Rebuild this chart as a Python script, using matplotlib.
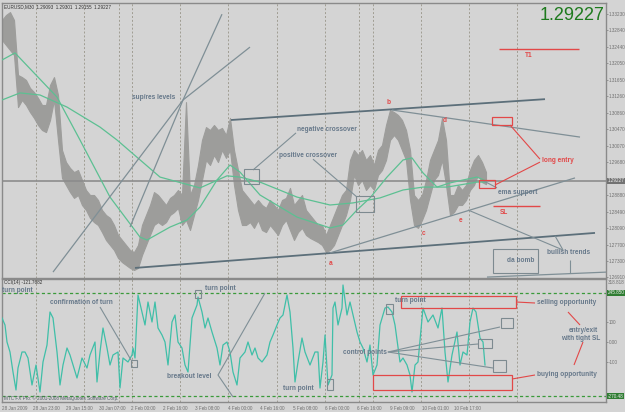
import matplotlib
matplotlib.use("Agg")
import matplotlib.pyplot as plt
import matplotlib.transforms as mtransforms
from matplotlib.patches import Rectangle
import numpy as np

# ------------------------------------------------------------------ data
# EURUSD M30 price band (high / low), one sample every 4 bars
price_high = [1.3309, 1.3321, 1.3328, 1.3309, 1.3177, 1.3172, 1.3165, 1.3146, 1.3136, 1.3122,
              1.3105, 1.3105, 1.3153, 1.3172, 1.3129, 1.2997, 1.2968, 1.2954, 1.2944, 1.2949,
              1.2925, 1.2901, 1.2889, 1.2889, 1.2877, 1.2853, 1.2841, 1.2834, 1.2817, 1.2793,
              1.2781, 1.2769, 1.2757, 1.2752, 1.2769, 1.2817, 1.2841, 1.2865, 1.2896, 1.2889,
              1.2877, 1.2865, 1.2882, 1.2889, 1.2901, 1.2889, 1.3112, 1.2889, 1.2913, 1.2961,
              1.3021, 1.3052, 1.3045, 1.3057, 1.3045, 1.3050, 1.3033, 1.3074, 1.2997, 1.2949,
              1.2901, 1.2889, 1.2877, 1.2865, 1.2877, 1.2865, 1.2858, 1.2877, 1.2865, 1.2853,
              1.2877, 1.2882, 1.2906, 1.2865, 1.2877, 1.2889, 1.2853, 1.2841, 1.2829, 1.2817,
              1.2817, 1.2793, 1.2817, 1.2841, 1.2865, 1.2889, 1.2901, 1.2973, 1.2997, 1.2985,
              1.2997, 1.2973, 1.2985, 1.2961, 1.2997, 1.3009, 1.3057, 1.3093, 1.3088, 1.3081,
              1.3069, 1.3045, 1.2997, 1.2889, 1.2877, 1.2889, 1.2925, 1.2973, 1.2997, 1.3021,
              1.3074, 1.3021, 1.2889, 1.2889, 1.2913, 1.2901, 1.2913, 1.2949, 1.2973, 1.2985,
              1.2968, 1.2944]
price_low = [1.3261, 1.3249, 1.3237, 1.3225, 1.3100, 1.3117, 1.3105, 1.3088, 1.3074, 1.3057,
             1.3045, 1.3040, 1.3069, 1.3117, 1.3021, 1.2930, 1.2913, 1.2896, 1.2882, 1.2889,
             1.2865, 1.2853, 1.2834, 1.2824, 1.2817, 1.2800, 1.2781, 1.2769, 1.2757, 1.2738,
             1.2728, 1.2721, 1.2714, 1.2709, 1.2714, 1.2745, 1.2769, 1.2793, 1.2817, 1.2824,
             1.2817, 1.2824, 1.2841, 1.2848, 1.2858, 1.2817, 1.2829, 1.2805, 1.2841, 1.2877,
             1.2925, 1.2973, 1.2961, 1.2985, 1.2968, 1.2997, 1.2978, 1.2997, 1.2913, 1.2853,
             1.2817, 1.2817, 1.2824, 1.2810, 1.2829, 1.2805, 1.2800, 1.2817, 1.2805, 1.2793,
             1.2817, 1.2829, 1.2805, 1.2781, 1.2800, 1.2810, 1.2793, 1.2786, 1.2781, 1.2776,
             1.2769, 1.2752, 1.2757, 1.2769, 1.2793, 1.2817, 1.2841, 1.2877, 1.2937, 1.2913,
             1.2925, 1.2901, 1.2913, 1.2901, 1.2937, 1.2949, 1.2973, 1.3021, 1.3033, 1.3021,
             1.2997, 1.2973, 1.2877, 1.2817, 1.2810, 1.2829, 1.2853, 1.2889, 1.2925, 1.2937,
             1.2973, 1.2913, 1.2841, 1.2848, 1.2865, 1.2865, 1.2877, 1.2901, 1.2913, 1.2937,
             1.2920, 1.2915]
price_bars = np.arange(len(price_high)) * 4

ma_fast_bars = [0, 13, 55, 78, 108, 138, 145, 168, 185, 198, 215, 228, 238, 258, 295, 328,
                341, 355, 368, 385, 401, 410, 421, 435, 448, 461, 475, 484]
ma_fast = [1.3213, 1.3230, 1.3124, 1.3021, 1.2884, 1.2788, 1.2781, 1.2812, 1.2829, 1.2860,
           1.2925, 1.2961, 1.2944, 1.2889, 1.2836, 1.2810, 1.2817, 1.2853, 1.2882, 1.2932,
           1.2973, 1.2978, 1.2942, 1.2908, 1.2918, 1.2925, 1.2932, 1.2923]
ma_slow_bars = [0, 18, 38, 65, 98, 115, 158, 198, 225, 238, 258, 295, 328, 351, 378, 401,
                421, 445, 475, 484]
ma_slow = [1.3117, 1.3134, 1.3129, 1.3100, 1.3052, 1.3021, 1.2932, 1.2906, 1.2935, 1.2932,
           1.2920, 1.2884, 1.2865, 1.2870, 1.2882, 1.2901, 1.2908, 1.2908, 1.2920, 1.2920]

cci_bars = [0, 3, 5, 8, 11, 14, 16, 20, 23, 26, 30, 34, 38, 41, 45, 48, 51, 55, 58, 61,
            65, 68, 75, 80, 85, 88, 93, 95, 98, 101, 105, 108, 111, 116, 118, 121, 126, 130,
            131, 133, 136, 140, 143, 146, 150, 153, 156, 160, 163, 166, 170, 173, 176, 180,
            183, 186, 190, 195, 196, 200, 203, 206, 210, 215, 218, 221, 225, 228, 231, 235,
            238, 243, 246, 250, 253, 256, 260, 265, 268, 271, 275, 278, 281, 285, 288, 291,
            293, 296, 300, 303, 308, 313, 316, 318, 321, 323, 326, 330, 331, 333, 336, 340,
            341, 345, 348, 351, 355, 358, 361, 365, 368, 371, 375, 378, 383, 386, 390, 393,
            398, 401, 405, 408, 410, 413, 416, 421, 426, 431, 436, 440, 443, 446, 450, 455,
            458, 461, 465, 468, 471, 474, 478, 481, 483]
cci_values = [120, 85, 0, -50, -150, -240, -130, -50, -50, -80, -215, -115, -250, -100, -15,
              150, 120, -50, -215, -115, -30, -65, -180, -80, -130, -65, 0, -200, -50, 70,
              -30, -115, -65, -50, -230, -80, -100, -65, -30, -80, 235, 150, 85, 200, 100,
              200, 70, 35, 0, -115, 100, 135, 0, -30, -115, -150, 120, 185, 225, 150, 70,
              120, 50, -30, -115, -15, 0, -50, -150, -215, -80, -50, 0, -65, -30, -80, -100,
              -65, 0, 35, 85, 120, 135, 235, 150, -30, -200, -100, 20, -50, -115, -50, -50,
              -230, -100, 35, -215, -165, 170, 200, 85, 170, 285, 135, 200, 135, 50, 0, -30,
              -100, -15, -165, -115, 85, 170, 175, 150, 85, -100, -80, -115, -165, -250,
              -115, -100, 170, 100, 135, 70, 170, -50, -200, -65, 50, -115, -50, -65, 100,
              170, 150, 20, 0, -115]

time_label_bars = [0, 31, 64, 97, 129, 161, 193, 226, 258, 291, 323, 355, 388, 420, 452]
time_labels = ["28 Jan 2009", "28 Jan 23:00", "29 Jan 15:00", "30 Jan 07:00", "2 Feb 00:00",
               "2 Feb 16:00", "3 Feb 08:00", "4 Feb 00:00", "4 Feb 16:00", "5 Feb 08:00",
               "6 Feb 00:00", "6 Feb 16:00", "9 Feb 09:00", "10 Feb 01:00", "10 Feb 17:00"]
grid_bars = [34, 82, 117, 130, 178, 226, 275, 323, 357, 371, 419, 467, 515]
price_ticks = [1.33230, 1.32840, 1.32440, 1.32050, 1.31650, 1.31260, 1.30860, 1.30470,
               1.30070, 1.29680, 1.28880, 1.28490, 1.28090, 1.27700, 1.27300, 1.26910]
cci_ticks = [100, 0, -100]
cci_tick_labels = ["100", "0.00", "-100"]
cci_levels = [245.85, -270.48]
cci_max = 318.818
last_price = 1.29227
ohlc_text = "EURUSD,M30  1.29093  1.29301  1.29155  1.29227"
cci_text = "CCI(14) -121.7682"

# ------------------------------------------------------------------ style
BG = "#d4d4d4"
PRICE_C = "#9d9d9b"
MA_C = "#5cc092"
TREND_C = "#5c6f7a"
THIN_C = "#7f8f96"
NOTE_C = "#66788a"
RED = "#e24848"
CCI_C = "#3fbfa8"
LEVEL_C = "#3a9a3a"
GRID_C = "#a09d92"
FONT = "Liberation Sans"
TICK_FS = 3.3

W, H = 625, 412
fig = plt.figure(figsize=(W / 100, H / 100), dpi=100, facecolor=BG)

def axes_box(x0, y0, x1, y1):
    return [x0 / W, 1 - y1 / H, (x1 - x0) / W, (y1 - y0) / H]

ax = fig.add_axes(axes_box(2, 3, 606, 278))
ax2 = fig.add_axes(axes_box(2, 279, 606, 402))
for a in (ax, ax2):
    a.set_facecolor(BG)
    a.set_xlim(0, 604)
    for s in a.spines.values():
        s.set_color("#8a8a8a")
        s.set_linewidth(1.0)
    a.tick_params(left=False, bottom=False, labelbottom=False, labelleft=False)
    for g in grid_bars:
        a.axvline(g, color=GRID_C, lw=0.7, ls=(0, (2, 2)), zorder=1)

ax.set_ylim(1.26898, 1.33498)
ax2.set_ylim(-300, 315)

# right price scale
for a, ticks, labels in [(ax, price_ticks, [f"{v:.5f}" for v in price_ticks]),
                         (ax2, cci_ticks, cci_tick_labels)]:
    a.yaxis.tick_right()
    a.set_yticks(ticks)
    a.set_yticklabels(labels, family=FONT)
    a.tick_params(axis="y", right=True, labelright=True, length=1.5, width=0.6,
                  color="#8a8a8a", labelsize=TICK_FS, labelcolor="#707070", pad=0.6)

# ------------------------------------------------------------------ main panel
ax.fill_between(price_bars, price_low, price_high, color=PRICE_C, lw=0.8, edgecolor=PRICE_C,
                zorder=2)
ax.plot(ma_slow_bars, ma_slow, color=MA_C, lw=0.9, zorder=3)
ax.plot(ma_fast_bars, ma_fast, color=MA_C, lw=0.9, zorder=3)
ax.axhline(last_price, color="#8c8c8c", lw=1.2, zorder=2)

def seg(a, xs, ys, c=TREND_C, lw=1.0, z=4):
    a.plot(xs, ys, color=c, lw=lw, zorder=z, solid_capstyle="butt")

def box(a, x0, y0, x1, y1, c="#7d8a90", lw=0.8):
    a.add_patch(Rectangle((x0, y0), x1 - x0, y1 - y0, fill=False, edgecolor=c, lw=lw, zorder=5))

# trend lines
seg(ax, [133, 593], [1.2714, 1.2798], lw=1.3)
seg(ax, [229, 543], [1.3069, 1.3119], lw=1.3)
seg(ax, [390, 578], [1.3093, 1.3028], c=THIN_C, lw=0.9)
seg(ax, [328, 573], [1.2750, 1.2930], c=THIN_C, lw=0.9)
seg(ax, [485, 605], [1.2692, 1.2704], c=THIN_C, lw=0.9)
# sup/res fan
seg(ax, [51, 181, 248], [1.2704, 1.3117, 1.3244], c=THIN_C, lw=0.9)
seg(ax, [128, 181, 220], [1.2812, 1.3117, 1.3323], c=THIN_C, lw=0.9)
# pointers
seg(ax, [294, 251], [1.3038, 1.2949], c=THIN_C, lw=0.8)
seg(ax, [311, 355], [1.2975, 1.2884], c=THIN_C, lw=0.8)
seg(ax, [561, 466], [1.2757, 1.2853], c=THIN_C, lw=0.8)
seg(ax, [561, 553], [1.2757, 1.2791], c=THIN_C, lw=0.8)
seg(ax, [568, 568], [1.2733, 1.2702], c=THIN_C, lw=0.8)
seg(ax, [480, 495], [1.2925, 1.2906], c=THIN_C, lw=0.8)
box(ax, 242, 1.2951, 257, 1.2915)
box(ax, 354, 1.2887, 372, 1.2848)
box(ax, 491, 1.2759, 536, 1.2702)

# red targets
seg(ax, [497, 577], [1.3239, 1.3239], c=RED, lw=1.0)
seg(ax, [491, 538], [1.2863, 1.2863], c=RED, lw=1.0)
box(ax, 490, 1.3076, 510, 1.3057, c=RED, lw=0.9)
box(ax, 477, 1.2925, 493, 1.2906, c=RED, lw=0.9)
seg(ax, [508, 538], [1.3057, 1.2975], c=RED, lw=0.8)
seg(ax, [493, 538], [1.2913, 1.2968], c=RED, lw=0.8)

def note(a, x, y, s, c=NOTE_C, size=4.7, ha="left"):
    a.text(x, y, s, color=c, fontsize=size, fontweight="bold", family=FONT, ha=ha,
           va="center", zorder=6)

note(ax, 130, 1.3122, "sup/res levels")
note(ax, 295, 1.3045, "negative crossover")
note(ax, 277, 1.2983, "positive crossover")
note(ax, 496, 1.2896, "ema support")
note(ax, 545, 1.2750, "bullish trends")
note(ax, 505, 1.2731, "da bomb")
note(ax, 540, 1.2971, "long entry", c=RED)
note(ax, 498, 1.2846, "SL", c=RED)
note(ax, 523, 1.3223, "T1", c=RED)
for lx, ly, s in [(329, 1.2724, "a"), (387, 1.3110, "b"), (422, 1.2796, "c"),
                  (443, 1.3067, "d"), (459, 1.2827, "e")]:
    note(ax, lx, ly, s, c=RED, ha="center")

ax.text(0.003, 0.985, ohlc_text, transform=ax.transAxes, fontsize=3.3, color="#303030",
        family=FONT, va="center", ha="left")
ax.text(0.998, 0.955, f"{last_price:.5f}", transform=ax.transAxes, fontsize=13,
        color="#1d7a1d", family=FONT, ha="right", va="center")
tr = mtransforms.blended_transform_factory(ax.transAxes, ax.transData)
ax.text(1.003, last_price, f"{last_price:.5f}", transform=tr, fontsize=TICK_FS,
        color="#f0f0f0", family=FONT, ha="left", va="center",
        bbox=dict(boxstyle="square,pad=0.15", fc="#727272", ec="none"), clip_on=False)

# ------------------------------------------------------------------ CCI panel
ax2.plot(cci_bars, cci_values, color=CCI_C, lw=0.9, zorder=3)
for lv in cci_levels:
    ax2.axhline(lv, color=LEVEL_C, lw=0.9, ls=(0, (2.5, 2)), zorder=2)
tr2 = mtransforms.blended_transform_factory(ax2.transAxes, ax2.transData)
for lv, txt in [(cci_levels[0], "245.850"), (cci_levels[1], "-270.48")]:
    ax2.text(1.003, lv, txt, transform=tr2, fontsize=TICK_FS, color="#f0f0f0", family=FONT,
             ha="left", va="center",
             bbox=dict(boxstyle="square,pad=0.15", fc="#2f7d32", ec="none"), clip_on=False)
ax2.text(1.003, 300, f"{cci_max:.3f}", transform=tr2, fontsize=TICK_FS, color="#707070",
         family=FONT, ha="left", va="center", clip_on=False)

box(ax2, 129, -90, 135, -123)
box(ax2, 193, 260, 199, 220)
box(ax2, 325, -185, 331, -240)
box(ax2, 384, 190, 391, 140)
box(ax2, 499, 120, 511, 70)
box(ax2, 476, 15, 490, -30)
box(ax2, 491, -90, 504, -150)
box(ax2, 399, 230, 514, 170, c=RED, lw=0.9)
box(ax2, 371, -165, 510, -240, c=RED, lw=0.9)

seg(ax2, [98, 129], [175, -90], c=THIN_C, lw=0.8)
seg(ax2, [263, 216, 231], [245, -165, -275], c=THIN_C, lw=0.8)
seg(ax2, [498, 386, 476], [75, -50, -10], c=THIN_C, lw=0.8)
seg(ax2, [386, 491], [-50, -130], c=THIN_C, lw=0.8)
seg(ax2, [514, 533], [200, 195], c=RED, lw=0.8)
seg(ax2, [510, 533], [-185, -165], c=RED, lw=0.8)
seg(ax2, [566, 578], [150, 85], c=RED, lw=0.8)
seg(ax2, [572, 581], [-115, 0], c=RED, lw=0.8)

note(ax2, 0, 260, "turn point")
note(ax2, 48, 200, "confirmation of turn")
note(ax2, 203, 270, "turn point")
note(ax2, 165, -175, "breakout level")
note(ax2, 281, -230, "turn point")
note(ax2, 393, 205, "turn point")
note(ax2, 535, 200, "selling opportunity")
note(ax2, 567, 60, "entry/exit")
note(ax2, 559, 15, "with tight SL")
note(ax2, 341, -55, "control points")
note(ax2, 535, -160, "buying opportunity")

ax2.text(0.003, 0.975, cci_text, transform=ax2.transAxes, fontsize=3.3, color="#303030",
         family=FONT, va="center", ha="left")
ax2.text(0.003, 0.03, "MTC FX Pro: \u00a9 2001-2008 MetaQuotes Software Corp.",
         transform=ax2.transAxes, fontsize=3.3, color="#505a66", family=FONT, va="center",
         ha="left")

trx = mtransforms.blended_transform_factory(ax2.transData, ax2.transAxes)
for b, lab in zip(time_label_bars, time_labels):
    ax2.text(b, -0.05, lab, transform=trx, fontsize=3.3, color="#707070", family=FONT,
             ha="left", va="center", clip_on=False)

fig.savefig("out.png", dpi=100, facecolor=BG)
